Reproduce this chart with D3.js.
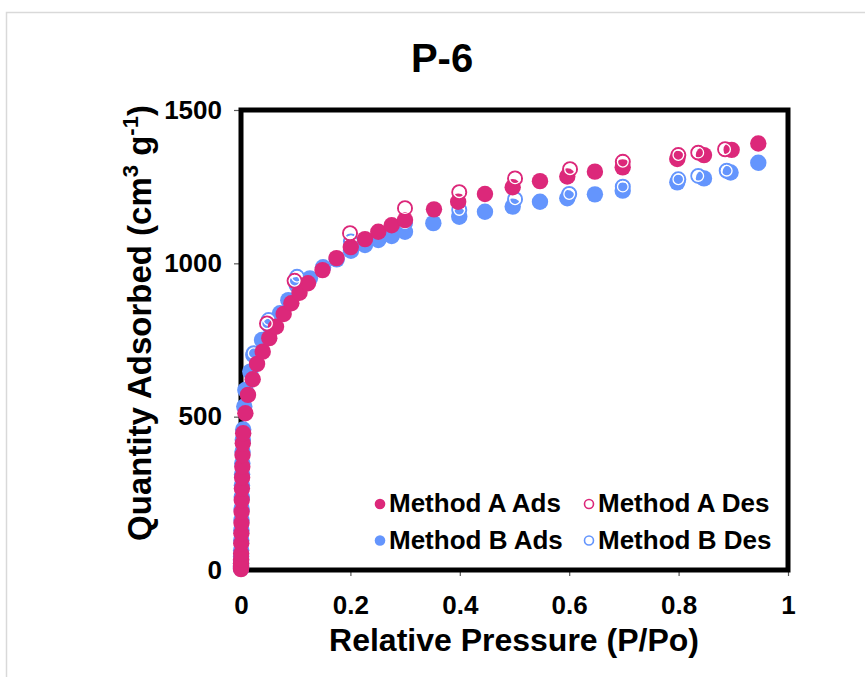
<!DOCTYPE html>
<html>
<head>
<meta charset="utf-8">
<title>P-6</title>
<script src="https://d3js.org/d3.v7.min.js"></script>
<style>
  body { margin: 0; background: #fff; font-family: "Liberation Sans", Arial, sans-serif; }
  .tick text { font-family: "Liberation Sans", Arial, sans-serif; font-weight: bold; font-size: 26px; fill: #000; }
</style>
</head>
<body>
<script>
// values
var aAdsP = [0.00001, 0.00003, 0.00006, 0.0001, 0.0002, 0.0003, 0.0005, 0.0007, 0.0009, 0.0011, 0.0014, 0.0017, 0.002, 0.0024, 0.0028, 0.0033, 0.004, 0.008, 0.0128,
  0.0214, 0.0293, 0.0397, 0.0517, 0.064, 0.078, 0.092, 0.107, 0.1225, 0.149, 0.1746, 0.2007, 0.2267, 0.251, 0.2755, 0.2998,
  0.3528, 0.397, 0.446, 0.4967, 0.5466, 0.5965, 0.647, 0.6978, 0.7976, 0.8464, 0.897, 0.9457];
var aAdsV = [3, 8, 14, 22, 35, 54, 87, 120, 153, 190, 228, 266, 302, 337, 375, 413, 446, 511, 571,
  622, 672, 712, 756, 793, 835, 870, 904, 935, 978, 1017, 1053, 1079, 1103, 1124, 1141,
  1176, 1201, 1226, 1248, 1268, 1283, 1299, 1313, 1340, 1353, 1370, 1391];

var aDesP = [0.885, 0.836, 0.7995, 0.698, 0.6015, 0.501, 0.399, 0.2998, 0.1993, 0.098, 0.0475];
var aDesV = [1372, 1361, 1353, 1331, 1307, 1277, 1232, 1180, 1098, 943, 804];

var bAdsP = [0.00001, 0.00003, 0.00006, 0.0001, 0.0002, 0.0003, 0.0005, 0.0007, 0.0009, 0.0011, 0.0014, 0.0017, 0.002, 0.0024, 0.0028, 0.0033, 0.004, 0.006, 0.0079,
  0.017, 0.0225, 0.0384, 0.053, 0.0713, 0.0865, 0.1018, 0.126, 0.150, 0.175, 0.201, 0.2267, 0.251, 0.2755, 0.2998,
  0.3516, 0.399, 0.446, 0.4967, 0.5466, 0.5965, 0.647, 0.6978, 0.7976, 0.8464, 0.895, 0.9457];
var bAdsV = [5, 12, 20, 30, 45, 64, 97, 130, 163, 200, 238, 276, 312, 348, 386, 424, 458, 533, 587,
  647, 701, 750, 793, 837, 880, 929, 951, 987, 1013, 1041, 1060, 1076, 1089, 1103,
  1131, 1152, 1168, 1185, 1201, 1212, 1225, 1237, 1264, 1277, 1296, 1328];

var bDesP = [0.888, 0.836, 0.7995, 0.698, 0.600, 0.501, 0.399, 0.2998, 0.201, 0.1024, 0.0506, 0.0232];
var bDesV = [1302, 1285, 1274, 1250, 1226, 1209, 1174, 1131, 1071, 956, 815, 707];

var xTicks = [0, 0.2, 0.4, 0.6, 0.8, 1];
var yTicks = [0, 500, 1000, 1500];
var legendNames = ["Method A Ads", "Method A Des", "Method B Ads", "Method B Des"];

var pink = "#dc287a";
var blue = "#6495fd";

var width = 865, height = 677;

var svg = d3.select("body").append("svg")
  .attr("width", width)
  .attr("height", height);

// light outer border of the chart area
svg.append("rect")
  .attr("x", 6.5).attr("y", 12.5)
  .attr("width", 900).attr("height", 700)
  .attr("fill", "none")
  .attr("stroke", "#d9d9d9")
  .attr("stroke-width", 1.5);

var x = d3.scaleLinear().domain([0, 1]).range([241, 788]);
var y = d3.scaleLinear().domain([0, 1500]).range([570, 110]);

// title
svg.append("text")
  .attr("x", 442).attr("y", 72)
  .attr("text-anchor", "middle")
  .style("font-weight", "bold")
  .style("font-size", "40px")
  .text("P-6");

// axes
var xAxis = svg.append("g")
  .attr("transform", "translate(0," + y(0) + ")")
  .call(d3.axisBottom(x).tickValues(xTicks).tickSize(6).tickFormat(d3.format("")));
xAxis.selectAll(".tick text").attr("y", 44).attr("dy", 0);

var yAxis = svg.append("g")
  .attr("transform", "translate(" + x(0) + ",0)")
  .call(d3.axisLeft(y).tickValues(yTicks).tickSize(7).tickPadding(12).tickFormat(d3.format("d")));

svg.selectAll(".domain").remove();
svg.selectAll(".tick line").attr("stroke", "#595959").attr("stroke-width", 1.2);

// plot frame
svg.append("rect")
  .attr("x", x(0)).attr("y", y(1500))
  .attr("width", x(1) - x(0))
  .attr("height", y(0) - y(1500))
  .attr("fill", "none")
  .attr("stroke", "#000")
  .attr("stroke-width", 5);

// axis titles
svg.append("text")
  .attr("x", 514).attr("y", 651)
  .attr("text-anchor", "middle")
  .style("font-weight", "bold")
  .style("font-size", "32px")
  .text("Relative Pressure (P/Po)");

var yt = svg.append("text")
  .attr("transform", "translate(151,323) rotate(-90)")
  .attr("text-anchor", "middle")
  .style("font-weight", "bold")
  .style("font-size", "33px");
yt.append("tspan").text("Quantity Adsorbed (cm");
yt.append("tspan").attr("dy", -13).style("font-size", "22px").text("3");
yt.append("tspan").attr("dy", 13).text(" g");
yt.append("tspan").attr("dy", -13).style("font-size", "22px").text("-1");
yt.append("tspan").attr("dy", 13).text(")");

function pairs(ps, vs) {
  return ps.map(function(p, i) { return [p, vs[i]]; });
}

function filled(data, color) {
  svg.append("g").selectAll("circle")
    .data(data)
    .enter()
    .append("circle")
    .attr("cx", function(d) { return x(d[0]); })
    .attr("cy", function(d) { return y(d[1]); })
    .attr("r", 8.2)
    .attr("fill", color);
}

function open(data, color) {
  var g = svg.append("g");
  g.selectAll("circle.ring")
    .data(data)
    .enter()
    .append("circle")
    .attr("class", "ring")
    .attr("cx", function(d) { return x(d[0]); })
    .attr("cy", function(d) { return y(d[1]); })
    .attr("r", 7)
    .attr("fill", "none")
    .attr("stroke", color)
    .attr("stroke-width", 2);
  g.selectAll("circle.inner")
    .data(data)
    .enter()
    .append("circle")
    .attr("class", "inner")
    .attr("cx", function(d) { return x(d[0]); })
    .attr("cy", function(d) { return y(d[1]); })
    .attr("r", 5.3)
    .attr("fill", "none")
    .attr("stroke", "#fff")
    .attr("stroke-width", 1.3);
}

filled(pairs(bAdsP, bAdsV), blue);
open(pairs(bDesP, bDesV), blue);
filled(pairs(aAdsP, aAdsV), pink);
open(pairs(aDesP, aDesV), pink);

// legend
var legendPos = [[380, 504], [589, 504], [380, 540.5], [589, 540.5]];
var legendColor = [pink, pink, blue, blue];
var legendOpen = [false, true, false, true];

var leg = svg.append("g").selectAll("g")
  .data(legendNames)
  .enter()
  .append("g")
  .attr("transform", function(d, i) { return "translate(" + legendPos[i][0] + "," + legendPos[i][1] + ")"; });

leg.append("circle")
  .attr("r", function(d, i) { return legendOpen[i] ? 4.5 : 5.3; })
  .attr("fill", function(d, i) { return legendOpen[i] ? "#fff" : legendColor[i]; })
  .attr("stroke", function(d, i) { return legendOpen[i] ? legendColor[i] : "none"; })
  .attr("stroke-width", 1.6);

leg.append("text")
  .attr("x", 9).attr("y", 8)
  .style("font-weight", "bold")
  .style("font-size", "26px")
  .text(function(d) { return d; });
</script>
</body>
</html>
